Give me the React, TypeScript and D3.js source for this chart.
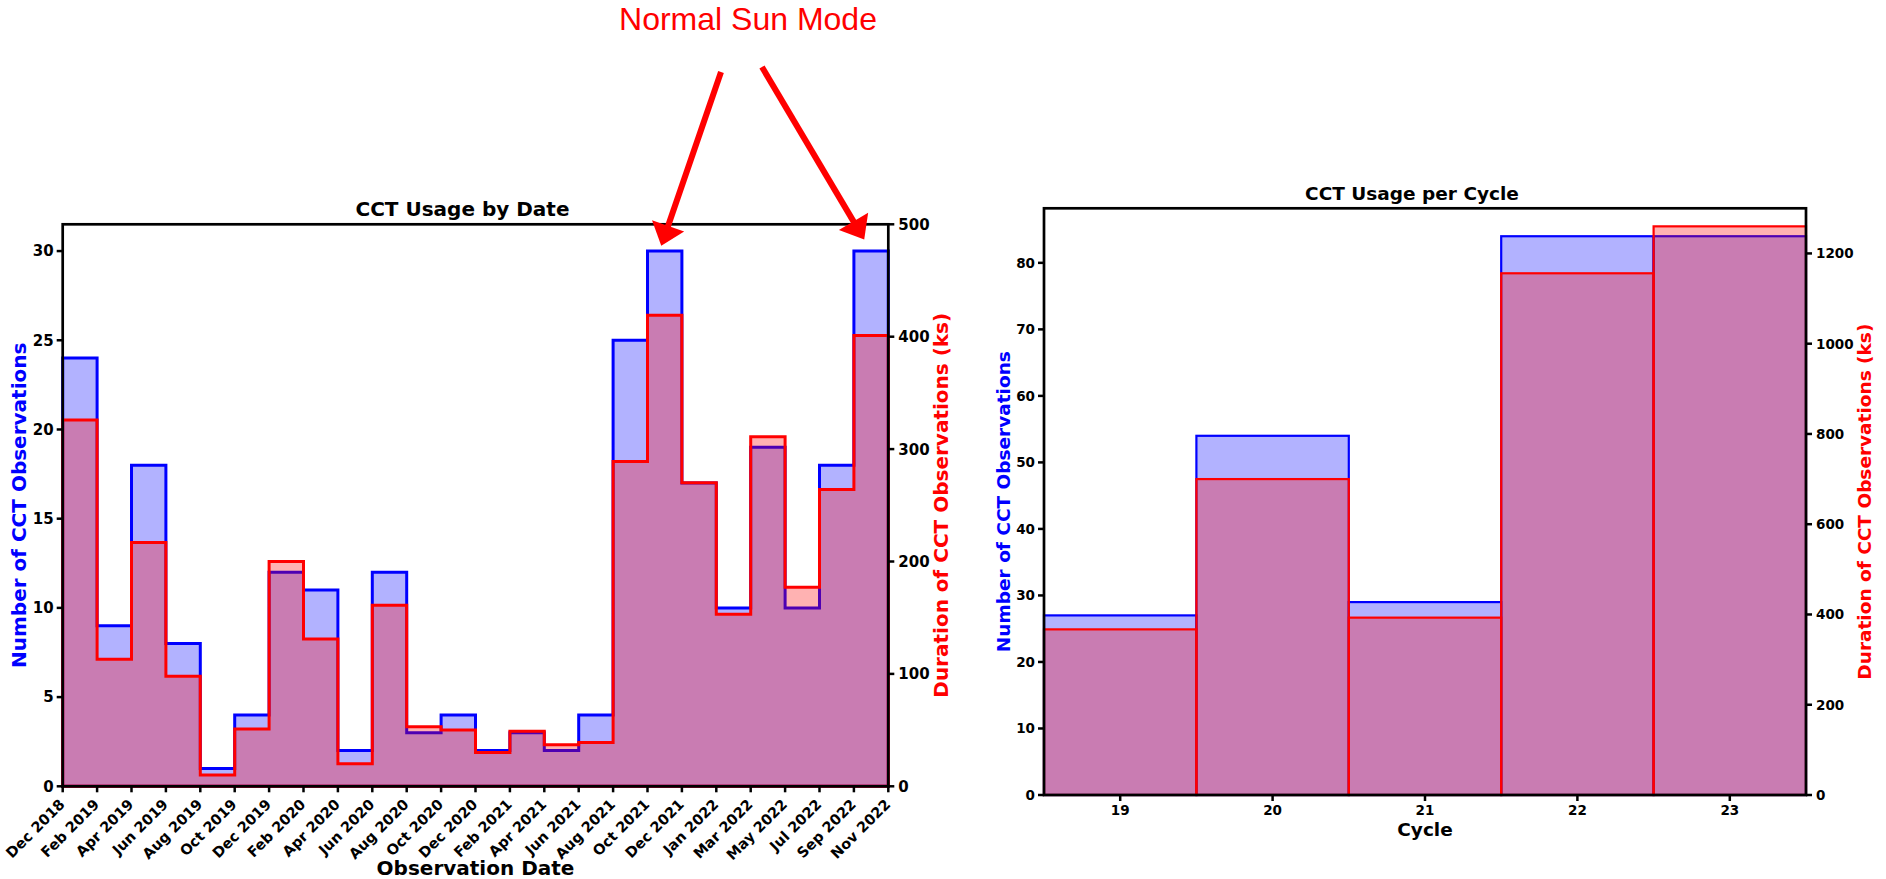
import React from 'react';
import * as d3 from 'd3';

// bin edge labels for the date histogram (24 bins, 25 edges)
const dateEdges = [
  'Dec 2018', 'Feb 2019', 'Apr 2019', 'Jun 2019', 'Aug 2019', 'Oct 2019', 'Dec 2019',
  'Feb 2020', 'Apr 2020', 'Jun 2020', 'Aug 2020', 'Oct 2020', 'Dec 2020', 'Feb 2021',
  'Apr 2021', 'Jun 2021', 'Aug 2021', 'Oct 2021', 'Dec 2021', 'Jan 2022', 'Mar 2022',
  'May 2022', 'Jul 2022', 'Sep 2022', 'Nov 2022',
];
const dateCounts = [24, 9, 18, 8, 1, 4, 12, 11, 2, 12, 3, 4, 2, 3, 2, 4, 25, 30, 17, 10, 19, 10, 18, 30];
const dateDurations = [326, 113, 217, 98, 10, 51, 200, 131, 20, 161, 53, 50, 30, 49, 37, 39, 289, 419, 270, 153, 311, 177, 264, 401];
const dateCountTicks = [0, 5, 10, 15, 20, 25, 30];
const dateDurTicks = [0, 100, 200, 300, 400, 500];

const cycles = [19, 20, 21, 22, 23];
const cycleCounts = [27, 54, 29, 84, 84];
const cycleDurations = [367, 700, 393, 1156, 1260];
const cycleCountTicks = [0, 10, 20, 30, 40, 50, 60, 70, 80];
const cycleDurTicks = [0, 200, 400, 600, 800, 1000, 1200];

// "Normal Sun Mode" arrows: target in (bin, count) space of the date chart
const sunTargets = [
  { bin: 17.4, count: 30.3, tail: [721, 72] },
  { bin: 23.3, count: 30.65, tail: [762, 67] },
];

const FONT = '"DejaVu Sans", sans-serif';
const BLUE = '#0000ff';
const RED = '#ff0000';
const BLUE_FILL = 'rgba(0,0,255,0.3)';
const RED_FILL = 'rgba(255,0,0,0.3)';

function Arrow({ tail, tip }: { tail: number[]; tip: number[] }) {
  const dx = tip[0] - tail[0];
  const dy = tip[1] - tail[1];
  const len = Math.hypot(dx, dy);
  const ux = dx / len, uy = dy / len;
  const headLen = 21, headW = 34;
  const bx = tip[0] - ux * headLen, by = tip[1] - uy * headLen;
  const px = -uy, py = ux;
  const head = [
    [tip[0], tip[1]],
    [bx + px * headW / 2, by + py * headW / 2],
    [bx - px * headW / 2, by - py * headW / 2],
  ];
  return (
    <g>
      <line x1={tail[0]} y1={tail[1]} x2={bx + ux * 2} y2={by + uy * 2} stroke={RED} strokeWidth={6} />
      <polygon points={head.map(p => p.join(',')).join(' ')} fill={RED} />
    </g>
  );
}

function DateChart() {
  const left = 62.7, right = 888.3, top = 224.3, bottom = 786.3;
  const x = d3.scaleLinear().domain([0, dateCounts.length]).range([left, right]);
  const yC = d3.scaleLinear().domain([0, 31.5]).range([bottom, top]);
  const yD = d3.scaleLinear().domain([0, 500]).range([bottom, top]);

  const stepPath = (vals: number[], y: d3.ScaleLinear<number, number>) => {
    const pts: [number, number][] = [[0, 0]];
    vals.forEach((v, i) => { pts.push([i, v]); pts.push([i + 1, v]); });
    pts.push([vals.length, 0]);
    return d3.line<[number, number]>().x(d => x(d[0])).y(d => y(d[1]))(pts) + 'Z';
  };

  const cx = (left + right) / 2;
  const cy = (top + bottom) / 2;

  return (
    <g fontFamily={FONT} fontWeight="bold">
      <path d={stepPath(dateCounts, yC)} fill={BLUE_FILL} stroke={BLUE} strokeWidth={3} strokeLinejoin="miter" />
      <path d={stepPath(dateDurations, yD)} fill={RED_FILL} stroke={RED} strokeWidth={3} strokeLinejoin="miter" />

      <rect x={left} y={top} width={right - left} height={bottom - top} fill="none" stroke="#000" strokeWidth={2.7} />

      {dateCountTicks.map(t => (
        <g key={'lc' + t}>
          <line x1={left - 6} x2={left} y1={yC(t)} y2={yC(t)} stroke="#000" strokeWidth={2.5} />
          <text x={left - 9} y={yC(t)} dy="0.36em" textAnchor="end" fontSize={15}>{t}</text>
        </g>
      ))}
      {dateDurTicks.map(t => (
        <g key={'ld' + t}>
          <line x1={right} x2={right + 6} y1={yD(t)} y2={yD(t)} stroke="#000" strokeWidth={2.5} />
          <text x={right + 10} y={yD(t)} dy="0.36em" textAnchor="start" fontSize={15}>{t}</text>
        </g>
      ))}
      {dateEdges.map((lab, i) => (
        <g key={'lx' + i}>
          <line x1={x(i)} x2={x(i)} y1={bottom} y2={bottom + 6} stroke="#000" strokeWidth={2.5} />
          <text transform={`translate(${x(i) + 3},${bottom + 19}) rotate(-45)`} textAnchor="end" fontSize={14.5}>{lab}</text>
        </g>
      ))}

      <text x={cx - 13} y={216} textAnchor="middle" fontSize={20}>CCT Usage by Date</text>
      <text x={cx} y={875} textAnchor="middle" fontSize={20}>Observation Date</text>
      <text transform={`translate(25.5,${cy}) rotate(-90)`} textAnchor="middle" fontSize={20} fill={BLUE}>Number of CCT Observations</text>
      <text transform={`translate(947.5,${cy}) rotate(-90)`} textAnchor="middle" fontSize={20} fill={RED}>Duration of CCT Observations (ks)</text>

      <text x={748} y={30} textAnchor="middle" fontSize={32} fontWeight="normal" fontFamily='"Liberation Sans", Arial, sans-serif' fill={RED}>Normal Sun Mode</text>
      {sunTargets.map((a, i) => (
        <Arrow key={'ar' + i} tail={a.tail} tip={[x(a.bin), yC(a.count)]} />
      ))}
    </g>
  );
}

function CycleChart() {
  const left = 1044, right = 1806, top = 208.3, bottom = 795;
  const x = d3.scaleLinear().domain([cycles[0] - 0.5, cycles[cycles.length - 1] + 0.5]).range([left, right]);
  const yC = d3.scaleLinear().domain([0, 88.2]).range([bottom, top]);
  const yD = d3.scaleLinear().domain([0, 1300]).range([bottom, top]);
  const cx = (left + right) / 2;
  const cy = (top + bottom) / 2;

  return (
    <g fontFamily={FONT} fontWeight="bold">
      {cycles.map((c, i) => (
        <rect key={'bc' + c} x={x(c - 0.5)} y={yC(cycleCounts[i])} width={x(c + 0.5) - x(c - 0.5)}
          height={bottom - yC(cycleCounts[i])} fill={BLUE_FILL} stroke={BLUE} strokeWidth={2.2} />
      ))}
      {cycles.map((c, i) => (
        <rect key={'bd' + c} x={x(c - 0.5)} y={yD(cycleDurations[i])} width={x(c + 0.5) - x(c - 0.5)}
          height={bottom - yD(cycleDurations[i])} fill={RED_FILL} stroke={RED} strokeWidth={2.2} />
      ))}

      <rect x={left} y={top} width={right - left} height={bottom - top} fill="none" stroke="#000" strokeWidth={2.7} />

      {cycleCountTicks.map(t => (
        <g key={'rc' + t}>
          <line x1={left - 6} x2={left} y1={yC(t)} y2={yC(t)} stroke="#000" strokeWidth={2.5} />
          <text x={left - 9} y={yC(t)} dy="0.36em" textAnchor="end" fontSize={13.5}>{t}</text>
        </g>
      ))}
      {cycleDurTicks.map(t => (
        <g key={'rd' + t}>
          <line x1={right} x2={right + 6} y1={yD(t)} y2={yD(t)} stroke="#000" strokeWidth={2.5} />
          <text x={right + 10} y={yD(t)} dy="0.36em" textAnchor="start" fontSize={13.5}>{t}</text>
        </g>
      ))}
      {cycles.map(c => (
        <g key={'rx' + c}>
          <line x1={x(c)} x2={x(c)} y1={bottom} y2={bottom + 6} stroke="#000" strokeWidth={2.5} />
          <text x={x(c)} y={bottom + 20} textAnchor="middle" fontSize={13.5}>{c}</text>
        </g>
      ))}

      <text x={cx - 13} y={200} textAnchor="middle" fontSize={18.5}>CCT Usage per Cycle</text>
      <text x={cx} y={836} textAnchor="middle" fontSize={18.5}>Cycle</text>
      <text transform={`translate(1009.5,${cy}) rotate(-90)`} textAnchor="middle" fontSize={18.5} fill={BLUE}>Number of CCT Observations</text>
      <text transform={`translate(1870.5,${cy}) rotate(-90)`} textAnchor="middle" fontSize={18.5} fill={RED}>Duration of CCT Observations (ks)</text>
    </g>
  );
}

export default function App() {
  return (
    <svg width={1886} height={879} style={{ position: 'absolute', left: 0, top: 0, background: '#fff' }}>
      <rect width={1886} height={879} fill="#fff" />
      <DateChart />
      <CycleChart />
    </svg>
  );
}
